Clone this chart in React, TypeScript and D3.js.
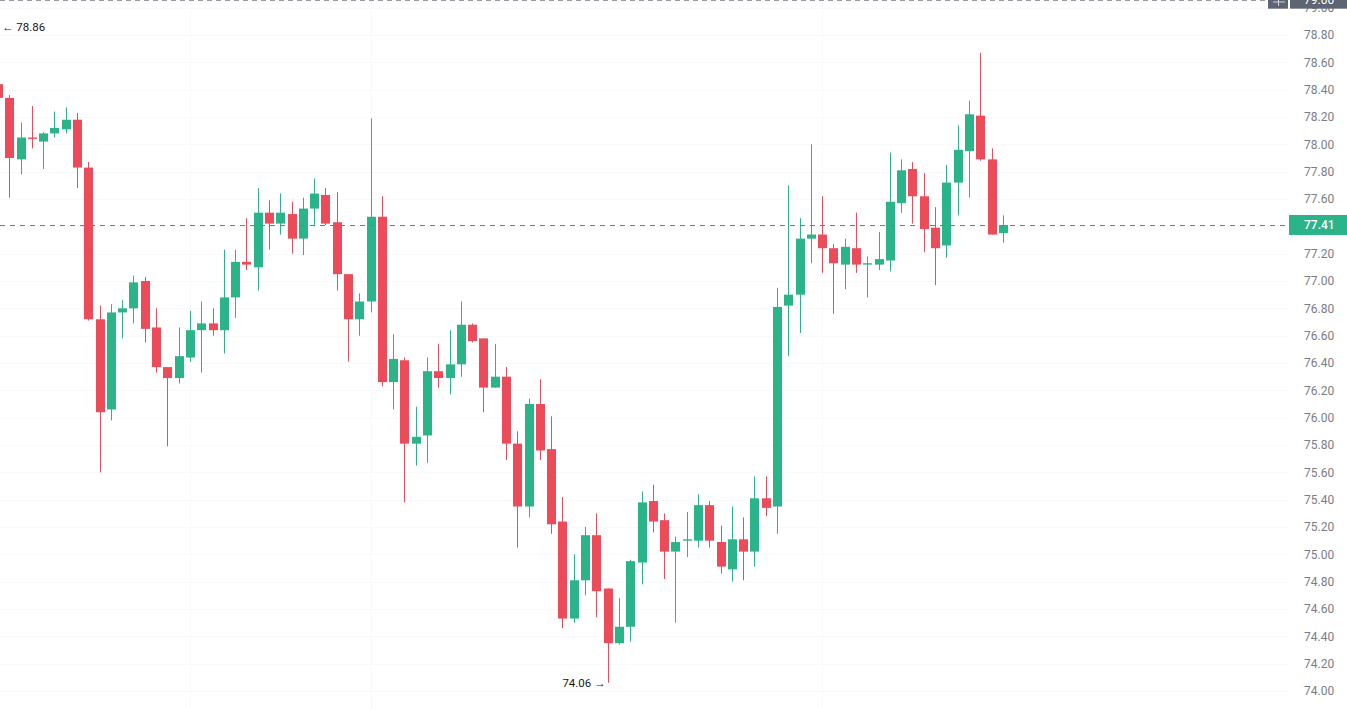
import React, { useEffect } from 'react';
import * as d3 from 'd3';

// OHLC, one entry per bar (bar 0 is cut by the left edge)
const opens = [
  78.44, 78.34, 77.89, 78.05, 78.02, 78.08, 78.11, 78.18, 77.83, 76.72,
  76.06, 76.77, 76.80, 77.00, 76.66, 76.37, 76.29, 76.44, 76.64, 76.69,
  76.64, 76.88, 77.14, 77.10, 77.50, 77.42, 77.49, 77.31, 77.53, 77.63,
  77.43, 77.05, 76.72, 76.85, 77.47, 76.26, 76.42, 75.81, 75.87, 76.34,
  76.29, 76.39, 76.68, 76.58, 76.22, 76.30, 75.81, 75.35, 76.10, 75.77,
  75.24, 74.53, 74.81, 75.14, 74.75, 74.35, 74.47, 74.94, 75.39, 75.25,
  75.02, 75.10, 75.10, 75.36, 75.09, 74.89, 75.11, 75.02, 75.41, 75.35,
  76.82, 76.90, 77.31, 77.34, 77.24, 77.12, 77.24, 77.12, 77.12, 77.15,
  77.57, 77.82, 77.62, 77.39, 77.26, 77.72, 77.95, 78.21, 77.89, 77.35,
];
const highs = [
  78.86, 78.36, 78.16, 78.28, 78.09, 78.24, 78.27, 78.23, 77.87, 76.82,
  76.83, 76.86, 77.04, 77.03, 76.80, 76.37, 76.66, 76.78, 76.85, 76.80,
  77.23, 77.23, 77.46, 77.68, 77.59, 77.64, 77.58, 77.61, 77.75, 77.68,
  77.65, 77.05, 76.91, 78.19, 77.62, 76.61, 76.44, 76.08, 76.44, 76.54,
  76.64, 76.85, 76.69, 76.58, 76.54, 76.37, 75.90, 76.14, 76.28, 76.01,
  75.42, 75.00, 75.20, 75.30, 74.75, 74.68, 74.96, 75.46, 75.51, 75.30,
  75.13, 75.31, 75.44, 75.39, 75.21, 75.35, 75.27, 75.57, 75.57, 76.95,
  77.70, 77.46, 78.00, 77.62, 77.27, 77.31, 77.50, 77.18, 77.36, 77.94,
  77.89, 77.87, 77.79, 77.54, 77.85, 78.14, 78.32, 78.67, 77.97, 77.48,
];
const lows = [
  78.30, 77.61, 77.78, 77.97, 77.82, 78.05, 78.08, 77.68, 76.71, 75.60,
  75.98, 76.58, 76.69, 76.55, 76.33, 75.79, 76.25, 76.41, 76.33, 76.60,
  76.47, 76.73, 77.08, 76.93, 77.23, 77.34, 77.20, 77.19, 77.40, 77.41,
  76.93, 76.41, 76.60, 76.77, 76.23, 76.06, 75.38, 75.65, 75.67, 76.22,
  76.17, 76.30, 76.55, 76.04, 76.22, 75.69, 75.05, 75.27, 75.69, 75.15,
  74.46, 74.50, 74.70, 74.54, 74.06, 74.34, 74.36, 74.78, 75.16, 74.82,
  74.50, 74.98, 75.05, 75.05, 74.86, 74.80, 74.81, 74.91, 75.28, 75.15,
  76.45, 76.62, 77.13, 77.06, 76.76, 76.94, 77.06, 76.88, 77.08, 77.07,
  77.50, 77.42, 77.21, 76.97, 77.17, 77.48, 77.61, 77.88, 77.34, 77.28,
];
const closes = [
  78.34, 77.90, 78.05, 78.04, 78.08, 78.12, 78.18, 77.83, 76.72, 76.04,
  76.77, 76.80, 76.99, 76.65, 76.37, 76.29, 76.45, 76.64, 76.69, 76.64,
  76.88, 77.14, 77.12, 77.50, 77.42, 77.50, 77.31, 77.53, 77.64, 77.42,
  77.05, 76.72, 76.85, 77.47, 76.26, 76.43, 75.81, 75.86, 76.34, 76.29,
  76.39, 76.68, 76.56, 76.22, 76.30, 75.81, 75.35, 76.10, 75.76, 75.22,
  74.53, 74.81, 75.14, 74.73, 74.35, 74.47, 74.95, 75.38, 75.24, 75.02,
  75.09, 75.11, 75.36, 75.10, 74.91, 75.11, 75.02, 75.41, 75.34, 76.81,
  76.90, 77.31, 77.34, 77.24, 77.13, 77.25, 77.12, 77.13, 77.16, 77.58,
  77.81, 77.62, 77.38, 77.24, 77.72, 77.96, 78.22, 77.89, 77.34, 77.41,
];

const priceTicks = [
  74.0, 74.2, 74.4, 74.6, 74.8, 75.0, 75.2, 75.4, 75.6, 75.8, 76.0, 76.2, 76.4,
  76.6, 76.8, 77.0, 77.2, 77.4, 77.6, 77.8, 78.0, 78.2, 78.4, 78.6, 78.8, 79.0,
];
// bars where a session separator is faintly drawn
const separatorBars = [17, 33, 73];
const crosshairPrice = 79.0;

const UP = '#2bb38a';
const DOWN = '#ec4b5a';
const FONT = 'Roboto, "Noto Sans", sans-serif';

export default function App() {
  useEffect(() => {
    document.body.style.margin = '0';
  }, []);

  const width = 1347,
    height = 709,
    axisX = 1290,
    barW = 9;

  const x = d3.scaleLinear().domain([0, opens.length - 1]).range([-2, 1002.8]);
  const y = d3.scaleLinear().domain([74, 79]).range([691, 7.67]);

  const last = closes[closes.length - 1];
  const lastUp = last >= opens[opens.length - 1];
  const hiIdx = d3.maxIndex(highs);
  const loIdx = d3.minIndex(lows);

  return (
    <svg width={width} height={height} style={{ display: 'block', background: '#fff' }} fontFamily={FONT}>
      {/* faint grid */}
      <g stroke="#f8f9fa" strokeWidth={1}>
        {priceTicks.map((t) => (
          <line key={'h' + t} x1={0} x2={axisX} y1={Math.round(y(t)) + 0.5} y2={Math.round(y(t)) + 0.5} />
        ))}
        {separatorBars.map((i) => (
          <line key={'v' + i} x1={Math.round(x(i)) + 0.5} x2={Math.round(x(i)) + 0.5} y1={0} y2={height} />
        ))}
      </g>

      {/* candles */}
      <g>
        {opens.map((o, i) => {
          const c = closes[i];
          const up = c >= o;
          const col = up ? UP : DOWN;
          const cx = Math.round(x(i));
          const top = y(Math.max(o, c));
          const bot = y(Math.min(o, c));
          return (
            <g key={i} fill={col}>
              <rect x={cx} y={y(highs[i])} width={1} height={y(lows[i]) - y(highs[i])} />
              <rect x={cx - 4} y={top} width={barW} height={Math.max(1, bot - top)} />
            </g>
          );
        })}
      </g>

      {/* last price line */}
      <line
        x1={0}
        x2={axisX}
        y1={Math.round(y(last)) + 0.5}
        y2={Math.round(y(last)) + 0.5}
        stroke="#3f9884"
        strokeWidth={1}
        strokeDasharray="5 5"
      />

      {/* high / low markers */}
      <text x={2} y={y(highs[hiIdx]) + 4} fontSize={11.5} fill="#131722">
        {'← ' + highs[hiIdx].toFixed(2)}
      </text>
      <text x={x(loIdx) - 2} y={y(lows[loIdx]) + 4} fontSize={11.5} fill="#131722" textAnchor="end">
        {lows[loIdx].toFixed(2) + ' →'}
      </text>

      {/* price axis */}
      <g fontSize={12} fill="#7a7d85">
        {priceTicks.map((t) => (
          <text key={t} x={1304} y={y(t) + 4.3}>
            {t.toFixed(2)}
          </text>
        ))}
      </g>

      {/* last price label */}
      <rect x={axisX - 1} y={y(last) - 10} width={width - axisX + 1} height={20} fill={lastUp ? UP : DOWN} />
      <text x={1304} y={y(last) + 4.3} fontSize={12} fill="#fff" fontWeight={500}>
        {last.toFixed(2)}
      </text>

      {/* crosshair at the top edge */}
      <line x1={0} x2={1268} y1={y(crosshairPrice) - 7.2} y2={y(crosshairPrice) - 7.2} stroke="#9598a1" strokeDasharray="5 4" />
      <rect x={1268} y={y(crosshairPrice) - 19} width={20} height={20} fill="#5d6473" />
      <line x1={1273} x2={1285} y1={2} y2={2} stroke="#d1d4dc" />
      <line x1={1278.5} x2={1278.5} y1={-4} y2={6} stroke="#d1d4dc" />
      <rect x={axisX} y={y(crosshairPrice) - 19} width={width - axisX} height={20} fill="#5d6473" />
      <text x={1304} y={y(crosshairPrice) - 3.7} fontSize={12} fill="#fff">
        {crosshairPrice.toFixed(2)}
      </text>
    </svg>
  );
}
